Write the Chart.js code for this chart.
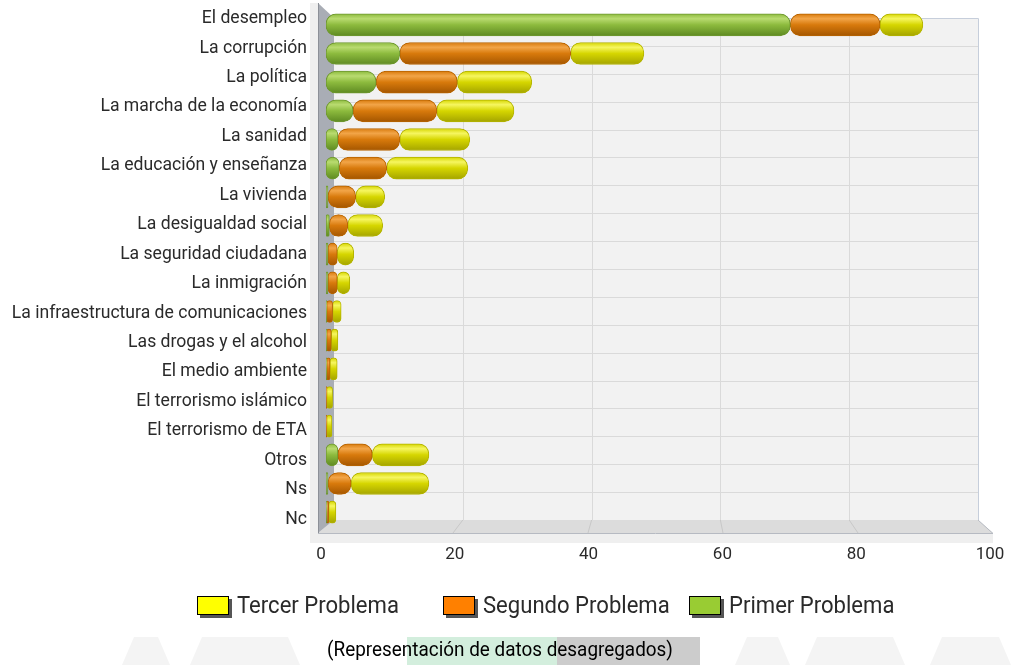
<!DOCTYPE html>
<html>
<head>
<meta charset="utf-8">
<script src="https://cdn.jsdelivr.net/npm/chart.js@4.4.1/dist/chart.umd.min.js"></script>
<style>
  html, body { margin: 0; padding: 0; background: #fff; overflow: hidden; }
  canvas { display: block; }
</style>
</head>
<body>
<canvas id="chart" width="1011" height="665"></canvas>
<script>
// ---- data ----
const categories = [
  'El desempleo', 'La corrupción', 'La política', 'La marcha de la economía',
  'La sanidad', 'La educación y enseñanza', 'La vivienda', 'La desigualdad social',
  'La seguridad ciudadana', 'La inmigración', 'La infraestructura de comunicaciones',
  'Las drogas y el alcohol', 'El medio ambiente', 'El terrorismo islámico',
  'El terrorismo de ETA', 'Otros', 'Ns', 'Nc'
];
const primer  = [70.4, 11.2, 7.6, 4.1, 1.8, 2.0, 0.3, 0.5, 0.3, 0.3, 0.1, 0.1, 0.1, 0.0, 0.0, 1.8, 0.3, 0.1];
const segundo = [13.6, 25.9, 12.3, 12.7, 9.4, 7.2, 4.2, 2.8, 1.4, 1.4, 0.9, 0.7, 0.5, 0.1, 0.1, 5.2, 3.5, 0.3];
const tercer  = [6.5, 11.1, 11.3, 11.7, 10.6, 12.3, 4.4, 5.3, 2.5, 1.9, 1.3, 1.0, 1.1, 0.9, 0.8, 8.6, 11.8, 1.1];
const seriesNames = ['Primer Problema', 'Segundo Problema', 'Tercer Problema'];
const xTicks = [0, 20, 40, 60, 80, 100];
const subtitle = '(Representación de datos desagregados)';

// ---- styles ----
const SHADES = {
  green:  { light: '#b9db70', mid: '#8dbb3e', dark: '#5e8a22', edge: '#6f9830', legend: '#99cc33' },
  orange: { light: '#f2a548', mid: '#d87a0c', dark: '#a45600', edge: '#b86400', legend: '#ff8000' },
  yellow: { light: '#f6f660', mid: '#d6d600', dark: '#a4a400', edge: '#b4b400', legend: '#ffff00' }
};
const BACK  = { l: 334, r: 978, t: 18, b: 520 };
const FRONT = { l: 318, r: 993, t: 3,  b: 533 };
const TICKS = { l: 321, r: 990, t: 4,  b: 534 };
const BAR_H = 22;

function onPlane(chart, p, x, y) {
  const a = chart.chartArea;
  return [
    p.l + (x - a.left) / (a.right - a.left) * (p.r - p.l),
    p.t + (y - a.top) / (a.bottom - a.top) * (p.b - p.t)
  ];
}

function capsule(shade) {
  return ctx => {
    const chart = ctx.chart;
    if (!chart.chartArea || ctx.type !== 'data') return shade.mid;
    const y = chart.scales.y.getPixelForValue(ctx.dataIndex);
    const g = chart.ctx.createLinearGradient(0, y - BAR_H / 2, 0, y + BAR_H / 2);
    g.addColorStop(0, shade.mid);
    g.addColorStop(0.22, shade.light);
    g.addColorStop(0.5, shade.mid);
    g.addColorStop(1, shade.dark);
    return g;
  };
}

function dataset(label, data, shade) {
  return {
    label, data,
    backgroundColor: capsule(shade),
    borderColor: shade.edge,
    borderWidth: 1,
    borderSkipped: false,
    borderRadius: { topLeft: 10, topRight: 10, bottomLeft: 10, bottomRight: 10 },
    barThickness: BAR_H,
    legendColor: shade.legend
  };
}

// narrow text: draw squeezed horizontally
function narrowText(c, text, x, y, sx, align) {
  c.save();
  c.translate(x, y);
  c.scale(sx, 1);
  c.textAlign = align;
  c.fillText(text, 0, 0);
  c.restore();
}

const boxPlugin = {
  id: 'box3d',
  beforeDraw(chart) {
    const c = chart.ctx;
    c.save();
    // faint watermark behind the caption
    c.fillStyle = '#f4f4f4';
    [[122, 170], [190, 300], [735, 790], [805, 905], [930, 1011]].forEach(([a, b]) => {
      c.beginPath();
      c.moveTo(a, 665); c.lineTo(a + 12, 637); c.lineTo(b - 12, 637); c.lineTo(b, 665);
      c.closePath(); c.fill();
    });
    c.fillStyle = '#d3eedd';
    c.fillRect(407, 637, 150, 28);
    c.fillStyle = '#cccccc';
    c.fillRect(557, 637, 143, 28);
    c.restore();
  },
  beforeDatasetsDraw(chart) {
    const c = chart.ctx;
    const xs = chart.scales.x, ys = chart.scales.y;
    c.save();
    // wall thickness strip and floor front face
    c.fillStyle = '#efefef';
    c.fillRect(310, 3, 8, 540);
    c.fillRect(318, 533, 675, 10);
    // back plane
    c.fillStyle = '#f2f2f2';
    c.fillRect(BACK.l, BACK.t, BACK.r - BACK.l, BACK.b - BACK.t);
    c.lineWidth = 1;
    c.strokeStyle = '#dadada';
    xTicks.slice(1, -1).forEach(v => {
      const [x] = onPlane(chart, BACK, xs.getPixelForValue(v), 0);
      c.beginPath(); c.moveTo(Math.round(x) + 0.5, BACK.t); c.lineTo(Math.round(x) + 0.5, BACK.b); c.stroke();
    });
    for (let i = 1; i < categories.length; i++) {
      const yMid = (ys.getPixelForValue(i - 1) + ys.getPixelForValue(i)) / 2;
      const [, y] = onPlane(chart, BACK, 0, yMid);
      c.beginPath(); c.moveTo(BACK.l, Math.round(y) + 0.5); c.lineTo(BACK.r, Math.round(y) + 0.5); c.stroke();
    }
    c.strokeStyle = '#c6cedb';
    c.beginPath();
    c.moveTo(BACK.l, BACK.t + 0.5); c.lineTo(BACK.r + 0.5, BACK.t + 0.5); c.lineTo(BACK.r + 0.5, BACK.b);
    c.stroke();
    // floor
    c.fillStyle = '#dcdcdc';
    c.beginPath();
    c.moveTo(BACK.l, BACK.b); c.lineTo(BACK.r, BACK.b); c.lineTo(FRONT.r, FRONT.b); c.lineTo(FRONT.l, FRONT.b);
    c.closePath(); c.fill();
    c.strokeStyle = '#c8c8c8';
    xTicks.slice(1, -1).forEach(v => {
      const px = xs.getPixelForValue(v);
      const [bx] = onPlane(chart, BACK, px, 0);
      const [fx] = onPlane(chart, FRONT, px, 0);
      c.beginPath(); c.moveTo(bx, BACK.b); c.lineTo(fx, FRONT.b); c.stroke();
    });
    c.strokeStyle = '#b6bac2';
    c.beginPath();
    c.moveTo(FRONT.l, FRONT.b + 0.5); c.lineTo(FRONT.r, FRONT.b + 0.5); c.lineTo(BACK.r, BACK.b);
    c.stroke();
    // left wall
    c.fillStyle = '#a9adb5';
    c.beginPath();
    c.moveTo(FRONT.l, FRONT.t); c.lineTo(BACK.l, BACK.t); c.lineTo(BACK.l, BACK.b); c.lineTo(FRONT.l, FRONT.b);
    c.closePath(); c.fill();
    c.strokeStyle = '#8c9098';
    c.beginPath(); c.moveTo(FRONT.l + 0.5, FRONT.t); c.lineTo(FRONT.l + 0.5, FRONT.b); c.stroke();
    c.restore();
  },
  afterDraw(chart) {
    const c = chart.ctx;
    const xs = chart.scales.x, ys = chart.scales.y;
    c.save();
    c.fillStyle = '#2a2a2a';
    c.font = '17.6px Roboto';
    c.textAlign = 'right';
    c.textBaseline = 'middle';
    categories.forEach((name, i) => {
      const [, y] = onPlane(chart, TICKS, 0, ys.getPixelForValue(i));
      c.fillText(name, 307, y);
    });
    c.font = '17px Roboto';
    c.textAlign = 'center';
    xTicks.forEach(v => {
      const [x] = onPlane(chart, TICKS, xs.getPixelForValue(v), 0);
      c.fillText(String(v), x, 555);
    });
    // legend (reverse order)
    const slots = [197, 443, 689];
    chart.data.datasets.slice().reverse().forEach((ds, k) => {
      const x = slots[k], y = 596;
      c.fillStyle = '#555';
      c.fillRect(x + 3, y + 3, 32, 19);
      c.fillStyle = ds.legendColor;
      c.fillRect(x, y, 32, 19);
      c.strokeStyle = '#000';
      c.lineWidth = 1;
      c.strokeRect(x + 0.5, y + 0.5, 31, 18);
      c.fillStyle = '#2a2a2a';
      c.font = '24px Roboto';
      narrowText(c, ds.label, x + 40, y + 11, 0.92, 'left');
    });
    c.fillStyle = '#000';
    c.font = '21px Roboto';
    narrowText(c, subtitle, 500, 651, 0.9, 'center');
    c.restore();
  }
};

new Chart(document.getElementById('chart'), {
  type: 'bar',
  data: {
    labels: categories,
    datasets: [
      dataset(seriesNames[0], primer, SHADES.green),
      dataset(seriesNames[1], segundo, SHADES.orange),
      dataset(seriesNames[2], tercer, SHADES.yellow)
    ]
  },
  options: {
    indexAxis: 'y',
    responsive: false,
    animation: false,
    layout: { padding: { left: 326, right: 25.5, top: 10.5, bottom: 138.5 } },
    plugins: { legend: { display: false }, tooltip: { enabled: false } },
    scales: {
      x: { display: false, stacked: true, min: 0, max: 100 },
      y: { display: false, stacked: true }
    }
  },
  plugins: [boxPlugin]
});
</script>
</body>
</html>
